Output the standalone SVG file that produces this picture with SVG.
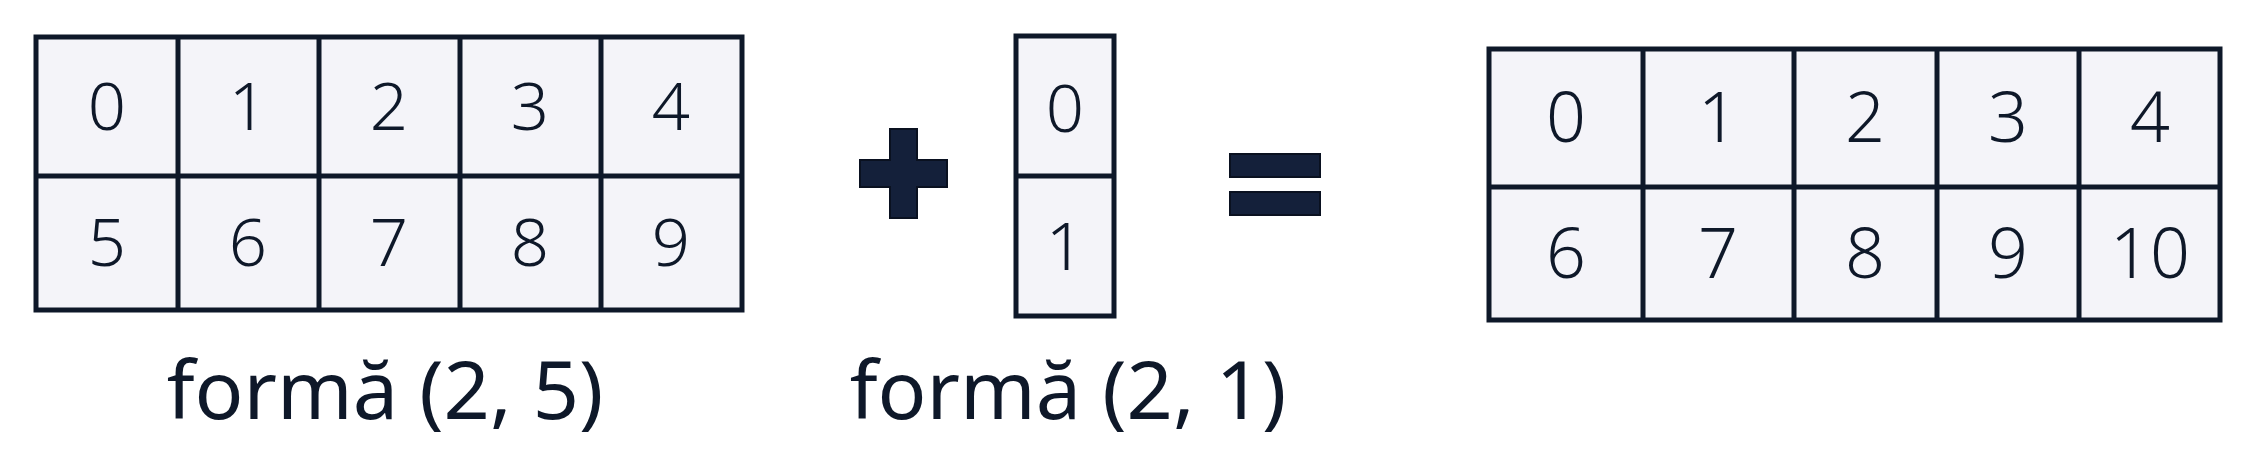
<svg xmlns="http://www.w3.org/2000/svg" width="2267" height="464" viewBox="0 0 2267 464">
<style>
.cell{fill:#f4f4f9;stroke:#0e1829;stroke-width:5}
.ln{stroke:#0e1829;stroke-width:5;fill:none}
.d{font-family:"Noto Sans","Open Sans",sans-serif;font-weight:300;font-size:67px;fill:#0e1829;text-anchor:middle}
.d2{font-size:70px}
.lbl{font-family:"Noto Sans","Open Sans",sans-serif;font-weight:400;font-size:81px;fill:#0e1829;text-anchor:middle}
.op{fill:#14203a;stroke:#0a1120;stroke-width:2}
</style>
<rect width="2267" height="464" fill="#ffffff"/>

<g id="matrixA">
<rect class="cell" x="36" y="37" width="706" height="273"/>
<path class="ln" d="M178 37V310M319 37V310M460 37V310M601 37V310M36 176H742"/>
<text class="d" x="107" y="130">0</text>
<text class="d" x="248" y="130">1</text>
<text class="d" x="389" y="130">2</text>
<text class="d" x="530" y="130">3</text>
<text class="d" x="671" y="130">4</text>
<text class="d" x="107" y="266">5</text>
<text class="d" x="248" y="266">6</text>
<text class="d" x="389" y="266">7</text>
<text class="d" x="530" y="266">8</text>
<text class="d" x="671" y="266">9</text>
</g>
<g id="labelA"><text class="lbl" x="385" y="419">formă (2, 5)</text></g>

<g id="plus"><path class="op" d="M890 129H917V160H947V187H917V218H890V187H860V160H890Z"/></g>

<g id="matrixB">
<rect class="cell" x="1016" y="36" width="98" height="280"/>
<path class="ln" d="M1016 176H1114"/>
<text class="d" x="1065" y="132">0</text>
<text class="d" x="1065" y="270">1</text>
</g>
<g id="labelB"><text class="lbl" x="1068" y="419">formă (2, 1)</text></g>

<g id="equals">
<rect class="op" x="1230" y="154" width="90" height="23"/>
<rect class="op" x="1230" y="192" width="90" height="23"/>
</g>

<g id="matrixC">
<rect class="cell" x="1489" y="49" width="731" height="271"/>
<path class="ln" d="M1643 49V320M1794 49V320M1937 49V320M2079 49V320M1489 187H2220"/>
<text class="d d2" x="1566" y="142">0</text>
<text class="d d2" x="1718" y="142">1</text>
<text class="d d2" x="1865" y="142">2</text>
<text class="d d2" x="2008" y="142">3</text>
<text class="d d2" x="2150" y="142">4</text>
<text class="d d2" x="1566" y="278">6</text>
<text class="d d2" x="1718" y="278">7</text>
<text class="d d2" x="1865" y="278">8</text>
<text class="d d2" x="2008" y="278">9</text>
<text class="d d2" x="2150" y="278">10</text>
</g>
<g id="connectors"/>
</svg>
